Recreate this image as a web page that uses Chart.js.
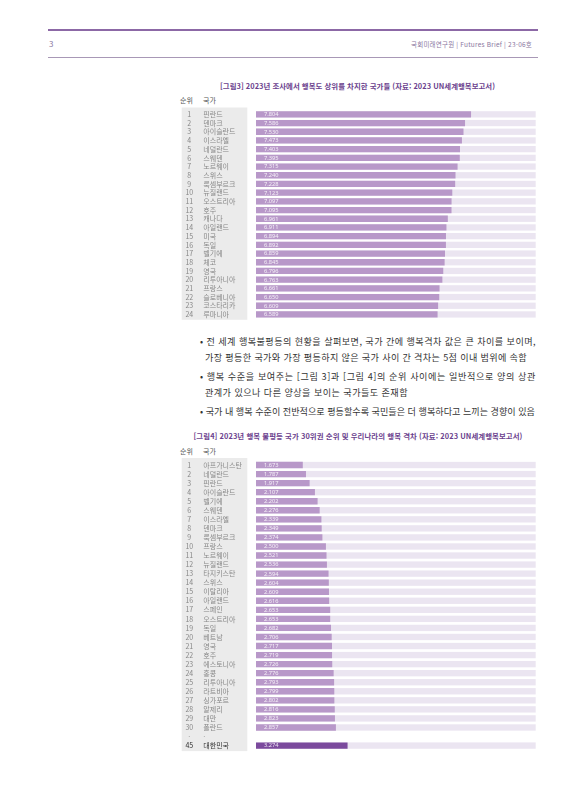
<!DOCTYPE html>
<html lang="ko">
<head>
<meta charset="utf-8">
<script src="https://cdn.jsdelivr.net/npm/chart.js@4.4.0/dist/chart.umd.min.js"></script>
<style>
  body { margin: 0; background: #fff; font-family: "Noto Sans CJK KR", "Noto Sans", sans-serif; }
  #page { position: relative; width: 585px; height: 800px; overflow: hidden; }
  .t { position: absolute; white-space: nowrap; line-height: 12px; }
  .rule { position: absolute; left: 48px; width: 490px; }
  .title { color: #6b3f8e; font-weight: 700; font-size: 7.4px; }
  .colhead { color: #555; font-size: 7px; }
  .body { color: #333; font-size: 9.1px; }
  canvas { position: absolute; left: 176px; }
</style>
</head>
<body>
<div id="page">
  <div class="rule" style="top:28.5px;height:2px;background:#8c68a6"></div>
  <div class="rule" style="top:56.5px;height:1px;background:#a898b6"></div>
  <div class="t" style="left:49px;top:38px;font-size:8px;color:#8a76a0">3</div>
  <div class="t fit" data-w="121" style="left:411px;top:38px;font-size:6.5px;color:#8a76a0">국회미래연구원 | Futures Brief | 23-06호</div>

  <div class="t title fit" data-w="275" data-c="357.5" style="top:80px">[그림3] 2023년 조사에서 행복도 상위를 차지한 국가들 (자료: 2023 UN세계행복보고서)</div>
  <div class="t colhead" style="left:180px;top:94px">순위</div>
  <div class="t colhead" style="left:203px;top:94px">국가</div>
  <canvas id="chart1" width="364" height="218" style="top:105px"></canvas>

  <div class="t body fit" data-w="336" style="left:200px;top:335px">• 전 세계 행복불평등의 현황을 살펴보면, 국가 간에 행복격차 값은 큰 차이를 보이며,</div>
  <div class="t body fit" data-w="322" style="left:205px;top:351px">가장 평등한 국가와 가장 평등하지 않은 국가 사이 간 격차는 5점 이내 범위에 속함</div>
  <div class="t body fit" data-w="336" style="left:200px;top:370px">• 행복 수준을 보여주는 [그림 3]과 [그림 4]의 순위 사이에는 일반적으로 양의 상관</div>
  <div class="t body fit" data-w="203" style="left:205px;top:386px">관계가 있으나 다른 양상을 보이는 국가들도 존재함</div>
  <div class="t body fit" data-w="335" style="left:200px;top:405px">• 국가 내 행복 수준이 전반적으로 평등할수록 국민들은 더 행복하다고 느끼는 경향이 있음</div>

  <div class="t title fit" data-w="329" data-c="358" style="top:430px">[그림4] 2023년 행복 불평등 국가 30위권 순위 및 우리나라의 행복 격차 (자료: 2023 UN세계행복보고서)</div>
  <div class="t colhead" style="left:180px;top:445px">순위</div>
  <div class="t colhead" style="left:203px;top:445px">국가</div>
  <canvas id="chart2" width="364" height="300" style="top:455px"></canvas>
</div>

<script>
// [그림3] 행복도 상위 국가 (2023 UN세계행복보고서)
var ranks1 = ['1','2','3','4','5','6','7','8','9','10','11','12','13','14','15','16','17','18','19','20','21','22','23','24'];
var countries1 = ['핀란드','덴마크','아이슬란드','이스라엘','네덜란드','스웨덴','노르웨이','스위스','룩셈부르크','뉴질랜드','오스트리아','호주',
  '캐나다','아일랜드','미국','독일','벨기에','체코','영국','리투아니아','프랑스','슬로베니아','코스타리카','루마니아'];
var scores1 = [7.804, 7.586, 7.530, 7.473, 7.403, 7.395, 7.315, 7.240, 7.228, 7.123, 7.097, 7.095,
  6.961, 6.911, 6.894, 6.892, 6.859, 6.845, 6.796, 6.763, 6.661, 6.650, 6.609, 6.589];

// [그림4] 행복 불평등 30위권 + 대한민국
var ranks2 = ['1','2','3','4','5','6','7','8','9','10','11','12','13','14','15','16','17','18','19','20',
  '21','22','23','24','25','26','27','28','29','30','·','45'];
var countries2 = ['아프가니스탄','네덜란드','핀란드','아이슬란드','벨기에','스웨덴','이스라엘','덴마크','룩셈부르크','프랑스',
  '노르웨이','뉴질랜드','타지키스탄','스위스','이탈리아','아일랜드','스페인','오스트리아','독일','베트남',
  '영국','호주','에스토니아','홍콩','리투아니아','라트비아','싱가포르','알제리','대만','폴란드','·','대한민국'];
var gaps2 = [1.673, 1.787, 1.917, 2.107, 2.202, 2.276, 2.339, 2.349, 2.374, 2.500,
  2.521, 2.536, 2.594, 2.604, 2.609, 2.616, 2.653, 2.653, 2.682, 2.706,
  2.717, 2.719, 2.726, 2.776, 2.793, 2.799, 2.802, 2.816, 2.823, 2.857, null, 3.274];
var koreaIndex = 31;

var barColor = '#b898c9';
var koreaColor = '#7b4a9d';
var trackColor = '#ebe5f1';

// stretch text lines to the widths they have on the printed page
function fitText() {
  document.querySelectorAll('.fit').forEach(function(el) {
    el.style.letterSpacing = '0px';
    var target = parseFloat(el.dataset.w);
    var w = el.getBoundingClientRect().width;
    el.style.letterSpacing = ((target - w) / el.textContent.length) + 'px';
    if (el.dataset.c) {
      el.style.left = (parseFloat(el.dataset.c) - target / 2) + 'px';
    }
  });
}
fitText();
setTimeout(fitText, 50);

// gray label box, light tracks, value labels and rank column
var rowPlugin = {
  id: 'rows',
  beforeDraw: function(chart) {
    var a = chart.chartArea, ctx = chart.ctx;
    ctx.save();
    ctx.fillStyle = '#ebebeb';
    ctx.fillRect(5.7, a.top - 2.5, 65.6, a.bottom - a.top + 3.5);
    ctx.restore();
  },
  beforeDatasetsDraw: function(chart) {
    var a = chart.chartArea, ctx = chart.ctx;
    var vals = chart.data.datasets[0].data;
    ctx.save();
    ctx.fillStyle = trackColor;
    chart.getDatasetMeta(0).data.forEach(function(bar, i) {
      if (vals[i] == null) return;
      ctx.fillRect(a.left, bar.y - bar.height / 2, a.right - a.left, bar.height);
    });
    ctx.restore();
  },
  afterDatasetsDraw: function(chart, args, opts) {
    var a = chart.chartArea, ctx = chart.ctx;
    var vals = chart.data.datasets[0].data;
    var yScale = chart.scales.y;
    ctx.save();
    ctx.textBaseline = 'middle';
    ctx.font = '5.7px "Noto Sans", sans-serif';
    ctx.fillStyle = 'rgba(255,255,255,0.85)';
    ctx.textAlign = 'left';
    chart.getDatasetMeta(0).data.forEach(function(bar, i) {
      if (vals[i] == null) return;
      ctx.fillText(vals[i].toFixed(3), a.left + 8, bar.y + 0.3);
    });
    ctx.font = '7px "Noto Sans CJK KR", sans-serif';
    ctx.textAlign = 'center';
    opts.ranks.forEach(function(r, i) {
      ctx.fillStyle = i === opts.dark ? '#333' : '#888';
      ctx.fillText(r, 13.3, yScale.getPixelForValue(i));
    });
    ctx.restore();
  }
};

function makeChart(id, ranks, names, values, max, dark, pad, barPct) {
  return new Chart(document.getElementById(id), {
    type: 'bar',
    data: {
      labels: names,
      datasets: [{
        data: values,
        backgroundColor: values.map(function(v, i) { return i === dark ? koreaColor : barColor; }),
        barPercentage: barPct,
        categoryPercentage: 1
      }]
    },
    options: {
      indexAxis: 'y',
      responsive: false,
      animation: false,
      layout: { padding: pad },
      plugins: {
        legend: { display: false },
        tooltip: { enabled: false },
        rows: { ranks: ranks, dark: dark }
      },
      scales: {
        x: { display: false, min: 0, max: max },
        y: {
          grid: { display: false },
          border: { display: false },
          afterFit: function(scale) { scale.width = 52.7; },
          ticks: {
            autoSkip: false,
            crossAlign: 'far',
            padding: 0,
            color: function(c) { return c.index === dark ? '#333' : '#888'; },
            font: { family: '"Noto Sans CJK KR", sans-serif', size: 7 }
          }
        }
      }
    },
    plugins: [rowPlugin]
  });
}

makeChart('chart1', ranks1, countries1, scores1, 10.15, -1,
  { left: 27.3, right: 4.3, top: 5, bottom: 4.2 }, 0.72);
makeChart('chart2', ranks2, countries2, gaps2, 10, koreaIndex,
  { left: 27.3, right: 4.3, top: 5.5, bottom: 4.9 }, 0.7);
</script>
</body>
</html>
